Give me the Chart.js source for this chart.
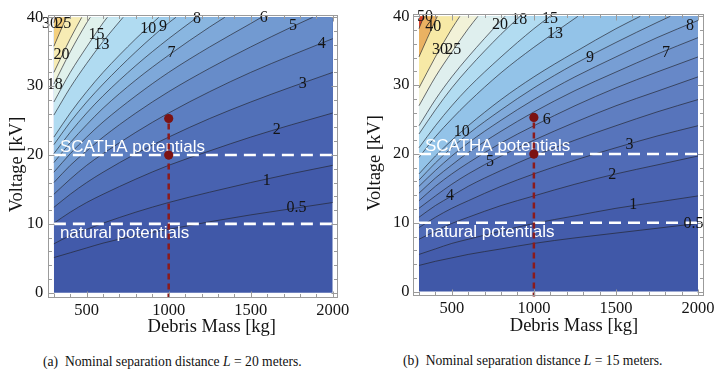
<!DOCTYPE html>
<html>
<head>
<meta charset="utf-8">
<script src="https://cdn.jsdelivr.net/npm/chart.js@4.4.1/dist/chart.umd.min.js"></script>
<style>
  html, body { margin: 0; padding: 0; background: #fff; width: 714px; height: 374px; overflow: hidden; }
  #wrap { position: relative; width: 714px; height: 374px; overflow: hidden; }
  canvas { position: absolute; top: 0; }
  #chartA { left: 0; }
  #chartB { left: 357px; }
  .cap { position: absolute; font-family: "Liberation Serif", "Times New Roman", serif; font-size: 13.6px; line-height: 15px; color: #111; white-space: nowrap; }
</style>
</head>
<body>
<div id="wrap">
  <canvas id="chartA" width="357" height="340"></canvas>
  <canvas id="chartB" width="380" height="340"></canvas>
  <div class="cap" style="left:43px; top:354px;">(a)&nbsp; Nominal separation distance <i>L</i> = 20 meters.</div>
  <div class="cap" style="left:403px; top:353px;">(b)&nbsp; Nominal separation distance <i>L</i> = 15 meters.</div>
</div>
<script>
// debris mass samples along each contour line [kg]
const massGrid = [300, 400, 500, 600, 800, 1000, 1250, 1500, 1750, 2000];
const massMin = 300, massMax = 2000, voltMax = 40;
const massTicks = [500, 1000, 1500, 2000];
const voltTicks = [0, 10, 20, 30, 40];

// reference potentials and the test case
const scathaV = 20;
const naturalV = 10;
const testMass = 1000;
const testVolts = [25.3, 20];

// (a) L = 20 m : contour levels, voltage of each line at massGrid, mass where it leaves the top
const levelsA = [0.5, 1, 2, 3, 4, 5, 6, 7, 8, 9, 10, 13, 15, 18, 20, 25, 30];
const voltsA = [
  [5.1, 5.8, 6.5, 7.2, 8.3, 9.2, 10.3, 11.3, 12.2, 13.1],
  [7.1, 8.3, 9.2, 10.1, 11.7, 13.1, 14.6, 16.0, 17.3, 18.5],
  [10.1, 11.7, 13.1, 14.3, 16.5, 18.5, 20.6, 22.6, 24.4, 26.1],
  [12.4, 14.3, 16.0, 17.5, 20.2, 22.6, 25.3, 27.7, 29.9, 32.0],
  [14.3, 16.5, 18.5, 20.2, 23.3, 26.1, 29.2, 32.0, 34.5, 36.9],
  [16.0, 18.5, 20.6, 22.6, 26.1, 29.2, 32.6, 35.7, 38.6],
  [17.5, 20.2, 22.6, 24.8, 28.6, 32.0, 35.7, 39.1],
  [18.9, 21.8, 24.4, 26.8, 30.9, 34.5, 38.6],
  [20.2, 23.3, 26.1, 28.6, 33.0, 36.9],
  [21.5, 24.8, 27.7, 30.3, 35.0, 39.2],
  [22.6, 26.1, 29.2, 32.0, 36.9],
  [25.8, 29.8, 33.3, 36.5],
  [27.7, 32.0, 35.7, 39.2],
  [30.3, 35.0, 39.2],
  [32.0, 36.9],
  [35.8],
  [39.2]
];
const exitMassA = [null, null, null, null, null, 1878, 1565, 1342, 1174, 1044, 939, 722, 626, 522, 470, 376, 313];
const labelsA = [
  ['30', 276, 39.1], ['25', 357, 39.1], ['20', 347, 34.6], ['18', 306, 30.2],
  ['15', 560, 37.5], ['13', 591, 36.0], ['10', 875, 38.3], ['9', 966, 38.6],
  ['8', 1173, 39.8], ['7', 1017, 34.8], ['6', 1580, 40.0], ['5', 1758, 38.8],
  ['4', 1933, 36.1], ['3', 1817, 30.4], ['2', 1659, 23.7], ['1', 1598, 16.3],
  ['0.5', 1779, 12.4]
];

// (b) L = 15 m
const levelsB = [0.5, 1, 2, 3, 4, 5, 6, 7, 8, 9, 10, 13, 15, 18, 20, 25, 30, 40, 50];
const voltsB = [
  [3.8, 4.4, 4.9, 5.4, 6.2, 7.0, 7.8, 8.5, 9.2, 9.9],
  [5.4, 6.2, 7.0, 7.6, 8.8, 9.9, 11.0, 12.1, 13.0, 13.9],
  [7.6, 8.8, 9.9, 10.8, 12.5, 13.9, 15.6, 17.1, 18.4, 19.7],
  [9.3, 10.8, 12.1, 13.2, 15.3, 17.1, 19.1, 20.9, 22.6, 24.1],
  [10.8, 12.5, 13.9, 15.3, 17.6, 19.7, 22.0, 24.1, 26.1, 27.9],
  [12.1, 13.9, 15.6, 17.1, 19.7, 22.0, 24.6, 27.0, 29.1, 31.2],
  [13.2, 15.3, 17.1, 18.7, 21.6, 24.1, 27.0, 29.6, 31.9, 34.1],
  [14.3, 16.5, 18.4, 20.2, 23.3, 26.1, 29.2, 31.9, 34.5, 36.9],
  [15.3, 17.6, 19.7, 21.6, 24.9, 27.9, 31.2, 34.1, 36.9, 39.4],
  [16.2, 18.7, 20.9, 22.9, 26.4, 29.6, 33.1, 36.2, 39.1],
  [17.1, 19.7, 22.0, 24.1, 27.9, 31.2, 34.8, 38.2],
  [19.5, 22.5, 25.1, 27.5, 31.8, 35.5, 39.7],
  [20.9, 24.1, 27.0, 29.6, 34.1, 38.2],
  [22.9, 26.4, 29.6, 32.4, 37.4],
  [24.1, 27.9, 31.2, 34.1, 39.4],
  [27.0, 31.2, 34.8, 38.2],
  [29.6, 34.1, 38.2],
  [34.1, 39.4],
  [38.2]
];
const exitMassB = [null, null, null, null, null, null, null, null, null, 1831, 1648, 1268, 1099, 916, 824, 659, 549, 412, 330];
const labelsB = [
  ['50', 337, 39.9], ['40', 387, 38.5], ['30', 428, 35.2], ['25', 509, 35.2],
  ['20', 794, 38.8], ['18', 911, 39.5], ['15', 1098, 39.6], ['13', 1129, 37.4],
  ['9', 1342, 34.0], ['8', 1951, 38.6], ['7', 1805, 34.7], ['6', 1078, 24.9],
  ['10', 560, 23.2], ['5', 733, 18.9], ['3', 1582, 21.3], ['2', 1478, 17.0],
  ['4', 489, 13.9], ['1', 1606, 12.6], ['0.5', 1972, 9.8]
];

// band colours, lowest band first
const bandColorsA = ['#4058a8', '#425aaa', '#4862b0', '#5170b8', '#5c7ec1', '#678cc9', '#729ad1', '#7ea8d9',
  '#89b6e0', '#94c2e7', '#9ecdec', '#b0dbf1', '#c8e8f2', '#e0f1ec', '#eff4dc', '#f7ecb4', '#f4d07e', '#e8964c'];
const bandColorsB = ['#4058a8', '#445cab', '#4962b0', '#506bb6', '#5774bb', '#5f7ec1', '#6788c8', '#6f93cd',
  '#779ed4', '#80aadb', '#88b6e0', '#93c3e8', '#a2d1ee', '#b2dcf1', '#c9e7f2', '#dfefee', '#f2f2d8', '#f7e9a6',
  '#eab262', '#d8462c'];

Chart.defaults.font.family = '"Liberation Serif", "Times New Roman", serif';

function contourPoints(volts, exitMass) {
  const pts = volts.map((v, i) => ({ x: massGrid[i], y: v }));
  if (exitMass) pts.push({ x: exitMass, y: voltMax });
  return pts;
}

function buildDatasets(levels, volts, exits, colors) {
  const ds = [];
  // lowest band as the base
  ds.push({
    data: [{ x: massMin, y: 0 }, { x: massMax, y: 0 }],
    fill: { value: voltMax }, backgroundColor: colors[0],
    borderWidth: 0, pointRadius: 0, order: 100
  });
  levels.forEach((lv, i) => {
    ds.push({
      data: contourPoints(volts[i], exits[i]),
      fill: { value: voltMax }, backgroundColor: colors[i + 1],
      borderColor: 'rgba(35,37,45,0.78)', borderWidth: 0.85,
      pointRadius: 0, cubicInterpolationMode: 'monotone', order: 99 - i
    });
  });
  [scathaV, naturalV].forEach(v => {
    ds.push({
      data: [{ x: massMin, y: v }, { x: massMax, y: v }],
      borderColor: '#ffffff', borderWidth: 2.6, borderDash: [12, 7],
      pointRadius: 0, fill: false, order: 5
    });
  });
  ds.push({
    label: 'drop',
    data: [{ x: testMass, y: -1 }, { x: testMass, y: testVolts[0] }],
    borderColor: '#8c1b1b', borderWidth: 2.5, borderDash: [6, 4],
    pointRadius: 0, fill: false, order: 2
  });
  ds.push({
    data: testVolts.map(v => ({ x: testMass, y: v })),
    showLine: false, pointRadius: 4.6, pointBackgroundColor: '#7c1212',
    pointBorderWidth: 0, fill: false, order: 1
  });
  return ds;
}

function decorPlugin(cfg) {
  return {
    id: 'decor',
    beforeDatasetDraw(chart, args) {
      if (chart.data.datasets[args.index].label !== 'drop') return;
      const { ctx, scales: { x, y } } = chart;
      ctx.save();
      ctx.font = '16px "Liberation Serif"';
      ctx.fillStyle = '#141414';
      ctx.textAlign = 'center';
      ctx.textBaseline = 'middle';
      cfg.labels.forEach(([t, m, v]) => ctx.fillText(t, x.getPixelForValue(m), y.getPixelForValue(v)));
      ctx.font = '17px "Liberation Sans"';
      ctx.fillStyle = '#ffffff';
      ctx.textAlign = 'left';
      ctx.textBaseline = 'alphabetic';
      const x0 = x.getPixelForValue(massMin) + 6;
      ctx.fillText('SCATHA potentials', x0, y.getPixelForValue(scathaV) - 2.5);
      ctx.fillText('natural potentials', x0, y.getPixelForValue(naturalV) + 14);
      ctx.restore();
    },
    afterDraw(chart) {
      const { ctx, chartArea: a, scales: { x, y } } = chart;
      const L = Math.round(a.left) + 0.5, R = Math.round(a.right) - 0.5;
      const T = Math.round(a.top) + 0.5, B = Math.round(a.bottom) - 0.5;
      ctx.save();
      ctx.strokeStyle = '#9b9b9b';
      ctx.lineWidth = 1;
      ctx.strokeRect(L, T, R - L, B - T);
      ctx.beginPath();
      for (let m = massMin; m <= massMax; m += 100) {
        const len = massTicks.includes(m) ? 6 : 3.5;
        const px = Math.round(x.getPixelForValue(m)) + 0.5;
        ctx.moveTo(px, B); ctx.lineTo(px, B - len);
        ctx.moveTo(px, T); ctx.lineTo(px, T + len);
      }
      for (let v = 0; v <= voltMax; v += 2) {
        const len = voltTicks.includes(v) ? 6 : 3.5;
        const py = Math.round(y.getPixelForValue(v)) + 0.5;
        ctx.moveTo(L, py); ctx.lineTo(L + len, py);
        ctx.moveTo(R, py); ctx.lineTo(R - len, py);
      }
      ctx.stroke();

      ctx.font = '18.5px "Liberation Serif"';
      ctx.fillStyle = '#141414';
      ctx.textAlign = 'center';
      ctx.textBaseline = 'middle';
      ctx.fillText('Debris Mass [kg]', cfg.xTitle[0], cfg.xTitle[1]);
      ctx.translate(cfg.yTitle[0], cfg.yTitle[1]);
      ctx.rotate(-Math.PI / 2);
      ctx.fillText('Voltage [kV]', 0, 0);
      ctx.restore();
    }
  };
}

function makePanel(cfg) {
  return new Chart(document.getElementById(cfg.canvas), {
    type: 'line',
    data: { datasets: buildDatasets(cfg.levels, cfg.volts, cfg.exits, cfg.colors) },
    options: {
      responsive: false,
      animation: false,
      devicePixelRatio: 1,
      layout: { padding: cfg.padding },
      plugins: { legend: { display: false }, tooltip: { enabled: false } },
      scales: {
        x: {
          type: 'linear', min: 266, max: 2034,
          grid: { display: false, drawTicks: false }, border: { display: false },
          afterBuildTicks: s => { s.ticks = massTicks.map(v => ({ value: v })); },
          afterFit: s => { s.height = 30; },
          ticks: { padding: cfg.xTickPad, color: '#141414', font: { size: 16.5 }, callback: v => String(v) }
        },
        y: {
          type: 'linear', min: -0.7, max: 40.35,
          grid: { display: false, drawTicks: false }, border: { display: false },
          afterBuildTicks: s => { s.ticks = voltTicks.map(v => ({ value: v })); },
          afterFit: s => { s.width = cfg.yAxisWidth; },
          ticks: { padding: cfg.yTickPad, color: '#141414', font: { size: 16.5 }, callback: v => String(v) }
        }
      }
    },
    plugins: [decorPlugin(cfg)]
  });
}

makePanel({
  canvas: 'chartA', levels: levelsA, volts: voltsA, exits: exitMassA, colors: bandColorsA, labels: labelsA,
  padding: { left: 7.3, right: 18.7, top: 13.3, bottom: 12.5 },
  yAxisWidth: 41, xTickPad: 3, yTickPad: 5,
  xTitle: [211.8, 326.7], yTitle: [17.5, 164.5]
});

makePanel({
  canvas: 'chartB', levels: levelsB, volts: voltsB, exits: exitMassB, colors: bandColorsB, labels: labelsB,
  padding: { left: 8.3, right: 33.4, top: 11.1, bottom: 13.6 },
  yAxisWidth: 48.1, xTickPad: 2, yTickPad: 4,
  xTitle: [217, 325.7], yTitle: [18.5, 163]
});
</script>
</body>
</html>
